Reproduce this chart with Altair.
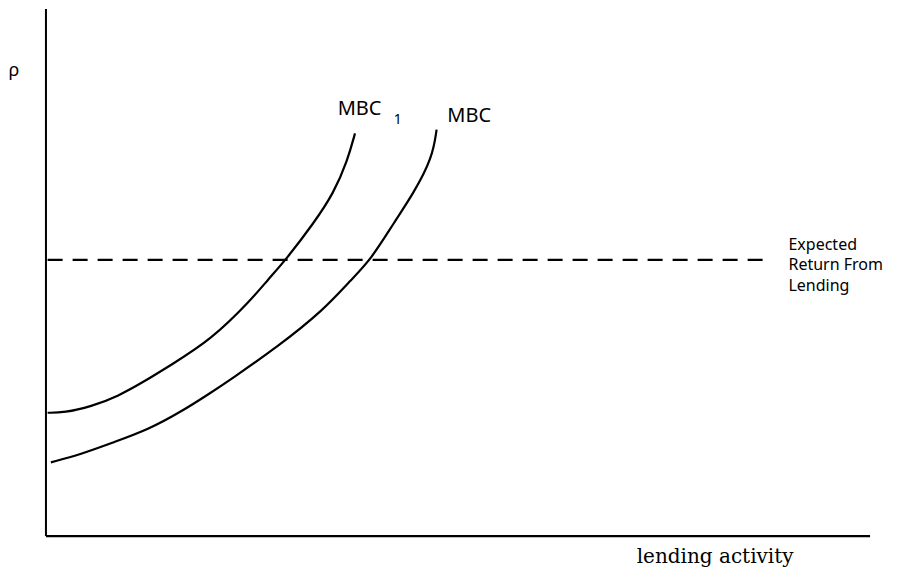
import altair as alt
import pandas as pd

# Curves (lending activity, rate) in chart units: axes run 0..100
mbc1_x = [0.2, 2.2, 5.5, 8.7, 11.9, 15.2, 20.0, 24.9, 26.9, 29.1, 32.5, 34.9, 36.6, 37.5]
mbc1_y = [23.4, 23.4, 24.6, 26.5, 29.3, 32.5, 37.2, 44.8, 48.6, 52.4, 59.4, 65.0, 71.3, 76.4]
mbc_x = [0.6, 4.2, 8.2, 12.4, 16.4, 20.0, 22.4, 28.1, 33.7, 37.0, 39.4, 42.2, 44.6, 46.9, 47.4]
mbc_y = [14.0, 15.5, 17.8, 20.2, 23.6, 27.2, 29.7, 35.9, 42.9, 48.6, 52.4, 59.4, 65.0, 71.8, 77.1]

expected_return = 52.4
expected_x = [0.2, 87.6]

axis_len = 100

# Labels
hand_text = ["MBC", "1", "MBC", "Expected", "Return From", "Lending"]
hand_x = [35.4, 42.2, 48.7, 90.1, 90.1, 90.1]
hand_y = [81.0, 78.9, 79.7, 55.3, 51.5, 47.5]
hand_size = [20, 14, 20, 16, 16, 16]

X_DOM = [-4.485, 104.121]
Y_DOM = [-5.860, 100.0]

xs = alt.Scale(domain=X_DOM, nice=False, zero=False)
ys = alt.Scale(domain=Y_DOM, nice=False, zero=False)

curves = pd.DataFrame(
    [{"curve": "MBC1", "x": a, "y": b, "o": i} for i, (a, b) in enumerate(zip(mbc1_x, mbc1_y))]
    + [{"curve": "MBC", "x": a, "y": b, "o": i} for i, (a, b) in enumerate(zip(mbc_x, mbc_y))]
)

lines = alt.Chart(curves).mark_line(color="black", strokeWidth=2.2, interpolate="basis").encode(
    x=alt.X("x:Q", scale=xs, axis=None),
    y=alt.Y("y:Q", scale=ys, axis=None),
    detail="curve:N",
    order="o:Q",
)

dash_df = pd.DataFrame({"x": [expected_x[0]], "x2": [expected_x[1]], "y": [expected_return]})
dash = alt.Chart(dash_df).mark_rule(color="black", strokeWidth=2.4, strokeDash=[15, 10]).encode(
    x=alt.X("x:Q", scale=xs, axis=None),
    x2="x2:Q",
    y=alt.Y("y:Q", scale=ys, axis=None),
)

yaxis_df = pd.DataFrame({"x": [0], "y": [0], "y2": [axis_len]})
yaxis = alt.Chart(yaxis_df).mark_rule(color="black", strokeWidth=2).encode(
    x=alt.X("x:Q", scale=xs, axis=None),
    y=alt.Y("y:Q", scale=ys, axis=None),
    y2="y2:Q",
)
xaxis_df = pd.DataFrame({"x": [0], "x2": [axis_len], "y": [0]})
xaxis = alt.Chart(xaxis_df).mark_rule(color="black", strokeWidth=2.2).encode(
    x=alt.X("x:Q", scale=xs, axis=None),
    x2="x2:Q",
    y=alt.Y("y:Q", scale=ys, axis=None),
)

lab_df = pd.DataFrame({"t": hand_text, "x": hand_x, "y": hand_y, "s": hand_size})
labels = alt.Chart(lab_df).mark_text(
    align="left", baseline="middle", font="Noto Sans", color="black"
).encode(
    x=alt.X("x:Q", scale=xs, axis=None),
    y=alt.Y("y:Q", scale=ys, axis=None),
    text="t:N",
    size=alt.Size("s:Q", scale=None, legend=None),
)

rho_df = pd.DataFrame({"t": ["ρ"], "x": [-3.9], "y": [88.3]})
rho = alt.Chart(rho_df).mark_text(font="Noto Sans", fontSize=18, color="black").encode(
    x=alt.X("x:Q", scale=xs, axis=None),
    y=alt.Y("y:Q", scale=ys, axis=None),
    text="t:N",
)

xt_df = pd.DataFrame({"t": ["lending activity"], "x": [81.2], "y": [-4.0]})
xtitle = alt.Chart(xt_df).mark_text(font="DejaVu Serif", fontSize=20, color="black").encode(
    x=alt.X("x:Q", scale=xs, axis=None),
    y=alt.Y("y:Q", scale=ys, axis=None),
    text="t:N",
)

chart = alt.layer(yaxis, xaxis, dash, lines, labels, rho, xtitle).properties(
    width=896,
    height=560,
    padding=0,
    autosize=alt.AutoSizeParams(type="fit", contains="padding"),
    background="white",
).configure_view(stroke=None)

chart.save("out.html", embed_options={"renderer": "svg", "actions": False})
